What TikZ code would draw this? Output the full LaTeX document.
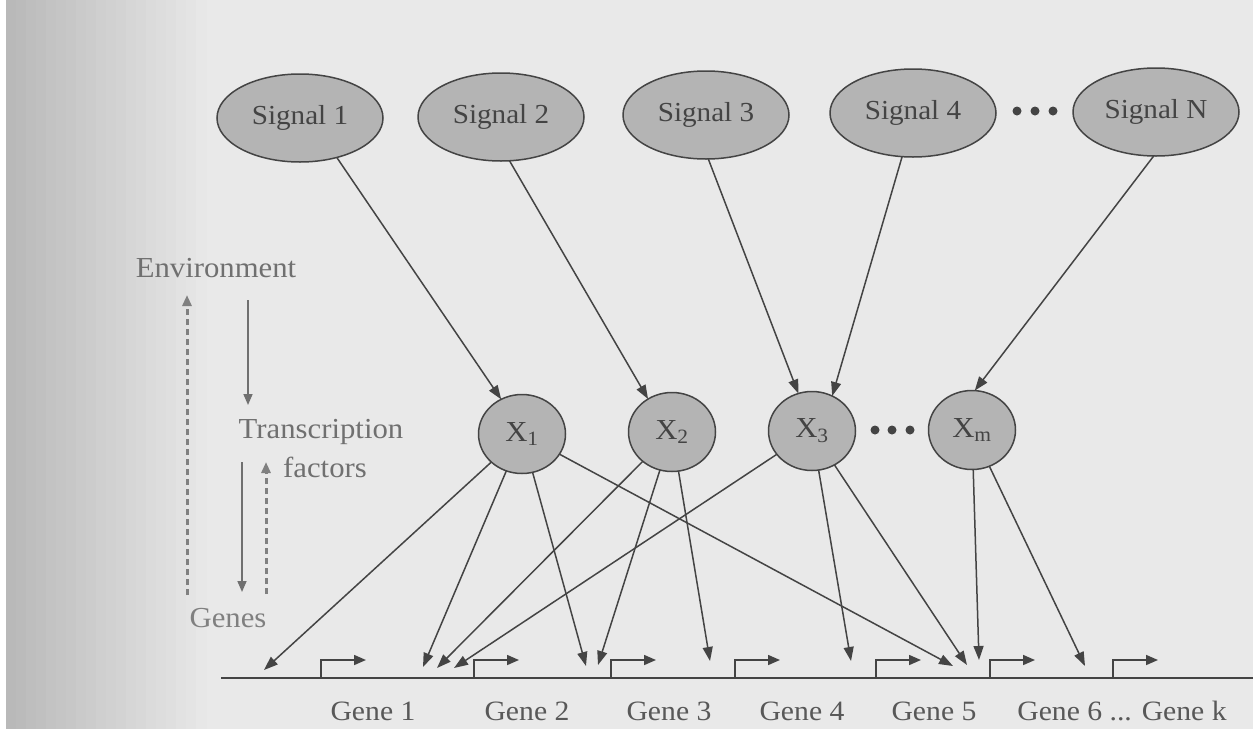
\documentclass[tikz,border=0pt]{standalone}
\usepackage{fontspec}
\setmainfont{Liberation Serif}[FakeStretch=1.06]
\usetikzlibrary{arrows.meta,shapes.geometric}
\definecolor{pagebg}{RGB}{233,233,233}
\definecolor{edgegray}{RGB}{185,185,185}
\definecolor{nodefill}{RGB}{180,180,180}
\definecolor{ink}{RGB}{68,68,68}
\definecolor{geneink}{RGB}{88,88,88}
\definecolor{lgray}{RGB}{112,112,112}
\definecolor{dgray}{RGB}{128,128,128}
\begin{document}
\begin{tikzpicture}[x=1pt,y=-1pt,
  sig/.style={ellipse, draw=ink, line width=1.5pt, fill=nodefill, minimum width=166pt, minimum height=88pt, inner sep=0pt, outer sep=0pt, text=ink, font=\fontsize{27.5}{30}\selectfont},
  tf/.style={ellipse, draw=ink, line width=1.5pt, fill=nodefill, minimum width=87pt, minimum height=79pt, inner sep=0pt, outer sep=0pt, text=ink, font=\fontsize{29}{30}\selectfont},
  link/.style={draw=ink, line width=1.5pt, -{Triangle[length=14pt,width=10pt]}},
  prom/.style={draw=ink, line width=1.6pt, -{Triangle[length=12pt,width=10pt]}},
  lbl/.style={text=lgray, font=\fontsize{29}{30}\selectfont, inner sep=0pt},
  genelbl/.style={text=geneink, font=\fontsize{28}{30}\selectfont, inner sep=0pt},
  flow/.style={draw=lgray, line width=1.6pt, -{Triangle[length=11pt,width=9pt]}},
  fback/.style={draw=dgray, line width=3pt, dash pattern=on 6pt off 4pt, -{Triangle[length=11pt,width=9pt]}},
  dotn/.style={circle, fill=ink, inner sep=0pt, minimum size=9pt}
]
% page background
\fill[pagebg] (0,0) rectangle (1253,729);
\foreach \k in {0,...,19}{
  \pgfmathsetmacro{\mix}{100-5*\k}
  \fill[edgegray!\mix!pagebg] ({6+10*\k},0) rectangle ({17+10*\k},729);
}
\fill[white] (0,0) rectangle (6,729);
\useasboundingbox (0,0) rectangle (1253,729);

% signals
\node[sig] (s1) at (300,118) {Signal 1};
\node[sig] (s2) at (501,117) {Signal 2};
\node[sig] (s3) at (706,115) {Signal 3};
\node[sig] (s4) at (913,113) {Signal 4};
\node[sig] (sn) at (1156,112) {Signal N};
\node[dotn] (sd1) at (1017,111) {};
\node[dotn] (sd2) at (1035,111) {};
\node[dotn] (sd3) at (1053,111) {};

% transcription factors
\node[tf] (x1) at (522,434) {X\textsubscript{1}};
\node[tf] (x2) at (672,432) {X\textsubscript{2}};
\node[tf] (x3) at (812,431) {X\textsubscript{3}};
\node[tf] (xm) at (972,430) {X\textsubscript{m}};
\node[dotn] (xd1) at (875,430) {};
\node[dotn] (xd2) at (892,430) {};
\node[dotn] (xd3) at (910,430) {};

% signal -> TF
\draw[link] (s1.-47) -- (x1.121);
\draw[link] (s2.-79) -- (x2.126);
\draw[link] (s3.-87) -- (x3.110);
\draw[link] (s4.-104) -- (x3.60);
\draw[link] (sn.-93) -- (xm.86);

% gene line and promoters
\coordinate (gl) at (221,678);
\coordinate (gr) at (1253,678);
\draw[ink, line width=1.8pt] (gl) -- (gr);
\foreach \i/\x in {1/321,2/474,3/611,4/735,5/876,6/990,7/1113}{
  \coordinate (p\i) at (\x,678);
  \draw[prom] (p\i) |- ++(45,-18);
}

% targets of TF arrows
\coordinate (t1) at (264,670);
\coordinate (t2) at (423,667);
\coordinate (t3) at (437,668);
\coordinate (t4) at (454,668);
\coordinate (t5) at (586,666);
\coordinate (t6) at (598,665);
\coordinate (t7) at (710,661);
\coordinate (t8) at (851,661);
\coordinate (t9) at (953,666);
\coordinate (t10) at (967,665);
\coordinate (t11) at (979,660);
\coordinate (t12) at (1085,666);

\draw[link] (x1) -- (t1);
\draw[link] (x1) -- (t2);
\draw[link] (x1) -- (t5);
\draw[link] (x1) -- (t9);
\draw[link] (x2) -- (t3);
\draw[link] (x2) -- (t6);
\draw[link] (x2) -- (t7);
\draw[link] (x3) -- (t4);
\draw[link] (x3) -- (t8);
\draw[link] (x3) -- (t10);
\draw[link] (xm) -- (t11);
\draw[link] (xm) -- (t12);

% gene labels
\node[genelbl] (g1) at (373,711) {Gene 1};
\node[genelbl] (g2) at (527,711) {Gene 2};
\node[genelbl] (g3) at (669,711) {Gene 3};
\node[genelbl] (g4) at (802,711) {Gene 4};
\node[genelbl] (g5) at (934,711) {Gene 5};
\node[genelbl] (g6) at (1122,711) {Gene 6 ... Gene k};

% left legend
\node[lbl] (env) at (216,268) {Environment};
\node[lbl] (trn) at (321,432) {Transcription};
\node[lbl] (fac) at (325,467) {factors};
\node[lbl, text=dgray] (gen) at (228,618) {Genes};
\coordinate (a1s) at (248,300);
\coordinate (a1e) at (248,405);
\coordinate (a2s) at (242,462);
\coordinate (a2e) at (242,592);
\coordinate (d1s) at (187,595);
\coordinate (d1e) at (187,295);
\coordinate (d2s) at (266,594);
\coordinate (d2e) at (266,462);
\draw[flow] (a1s) -- (a1e);
\draw[flow] (a2s) -- (a2e);
\draw[fback] (d1s) -- (d1e);
\draw[fback] (d2s) -- (d2e);
\end{tikzpicture}
\end{document}
